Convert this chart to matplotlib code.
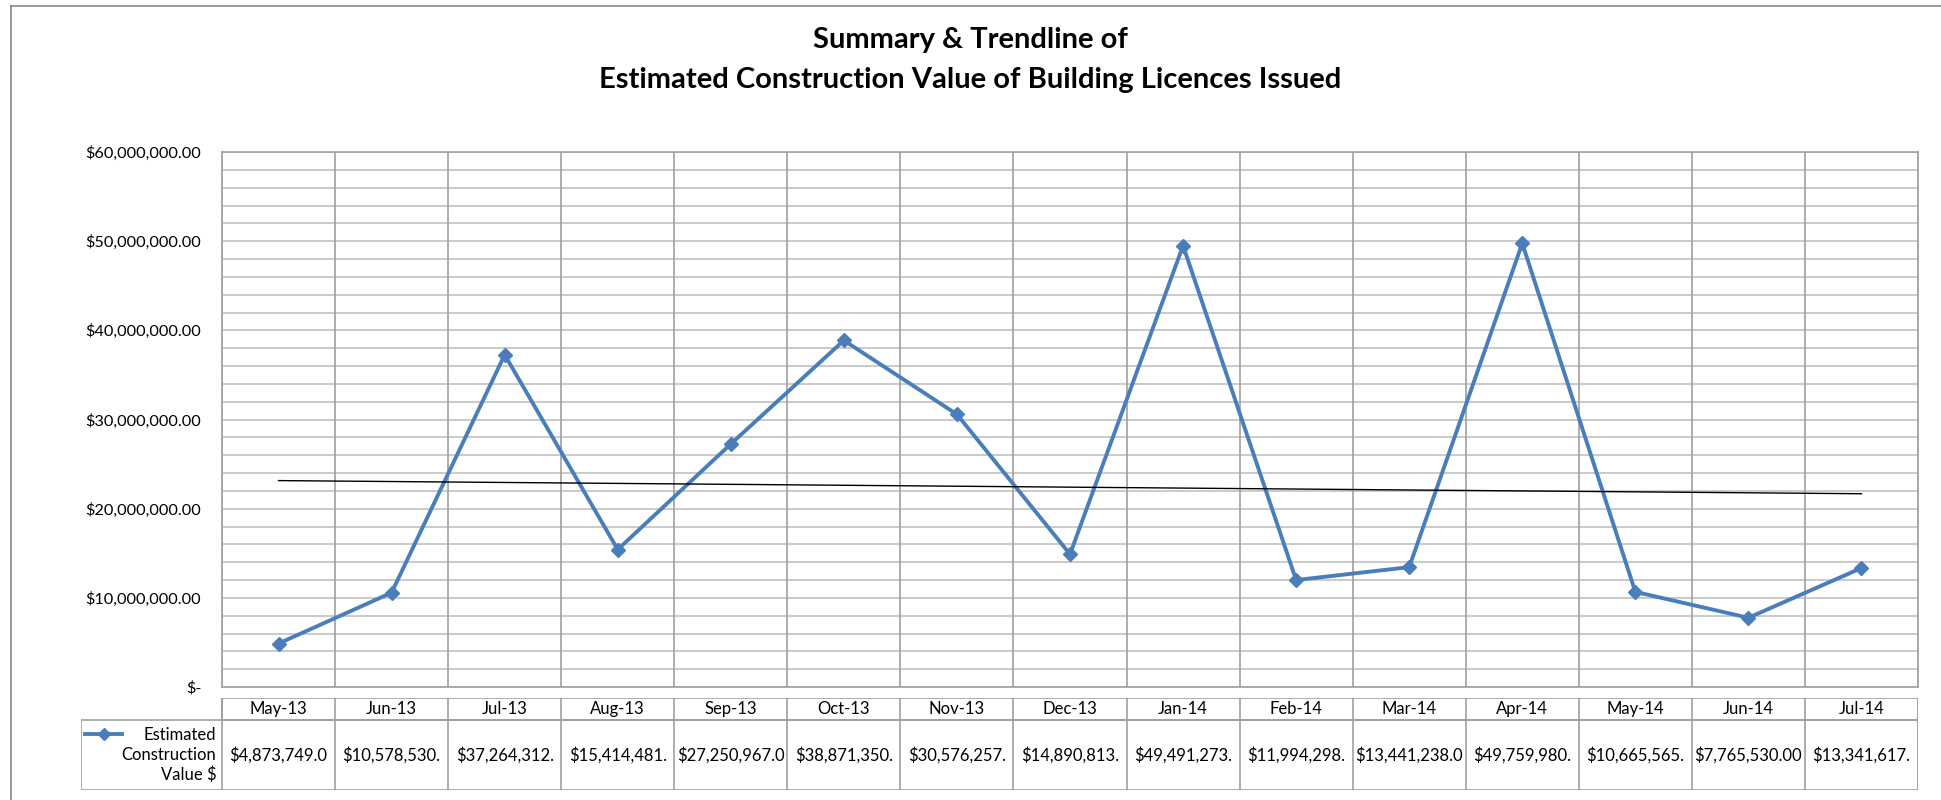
import matplotlib.pyplot as plt
import numpy as np
from matplotlib.lines import Line2D
from matplotlib.patches import Rectangle

plt.rcParams['font.family'] = ['Lato', 'DejaVu Sans']

# data
months = ['May-13', 'Jun-13', 'Jul-13', 'Aug-13', 'Sep-13', 'Oct-13', 'Nov-13', 'Dec-13',
          'Jan-14', 'Feb-14', 'Mar-14', 'Apr-14', 'May-14', 'Jun-14', 'Jul-14']
values = [4873749.0, 10578530, 37264312, 15414481, 27250967.0, 38871350, 30576257, 14890813,
          49491273, 11994298, 13441238.0, 49759980, 10665565, 7765530.00, 13341617]
# table cells as shown (truncated to the cell width)
cell_labels = ['$4,873,749.0', '$10,578,530.', '$37,264,312.', '$15,414,481.', '$27,250,967.0',
               '$38,871,350.', '$30,576,257.', '$14,890,813.', '$49,491,273.', '$11,994,298.',
               '$13,441,238.0', '$49,759,980.', '$10,665,565.', '$7,765,530.00', '$13,341,617.']
y_ticks = [0, 10000000, 20000000, 30000000, 40000000, 50000000, 60000000]
y_labels = ['$-', '$10,000,000.00', '$20,000,000.00', '$30,000,000.00', '$40,000,000.00',
            '$50,000,000.00', '$60,000,000.00']
series_name = 'Estimated\nConstruction\nValue $'

line_color = '#4A7EBB'
grid_h = '#c6c6c6'
grid_v = '#a0a0a0'

W, H = 1941, 800
fig = plt.figure(figsize=(W / 100, H / 100), dpi=100)

def box(l, t, r, b):
    return [l / W, 1 - b / H, (r - l) / W, (b - t) / H]

# outer chart border
fig.add_artist(Line2D([11 / W, 11 / W], [0, 1 - 6 / H], color='#888888', lw=1.2))
fig.add_artist(Line2D([11 / W, 1], [1 - 6 / H, 1 - 6 / H], color='#888888', lw=1.2))

ax = fig.add_axes(box(222, 152, 1918, 687))
x = np.arange(len(months))
n = len(months)

ax.set_xlim(-0.5, n - 0.5)
ax.set_ylim(0, 60000000)
ax.set_yticks(y_ticks)
ax.set_yticklabels(y_labels, fontsize=11.7)
ax.set_yticks(np.arange(0, 60000001, 2000000), minor=True)
ax.tick_params(axis='y', which='both', length=0, pad=15)
ax.set_xticks([])
ax.grid(True, axis='y', which='both', color=grid_h, lw=1.3)
for b in np.arange(-0.5, n, 1.0):
    ax.axvline(b, color=grid_v, lw=1.2, zorder=1)
for s in ax.spines.values():
    s.set_color(grid_v)
    s.set_linewidth(1.2)
ax.set_axisbelow(True)

ax.plot(x, values, color=line_color, lw=2.8, marker='D', markersize=7, zorder=3)

# linear trendline
k, c = np.polyfit(x, values, 1)
ax.plot(x, k * x + c, color='black', lw=1.0, zorder=4)

fig.text(0.5, 1 - 40 / H, 'Summary & Trendline of', ha='center', va='center',
         fontsize=21, fontweight='bold')
fig.text(0.5, 1 - 80 / H, 'Estimated Construction Value of Building Licences Issued',
         ha='center', va='center', fontsize=21, fontweight='bold')

# data table under the chart
unit = (1918 - 222) / n
left_ext = (222 - 81) / unit
tax = fig.add_axes(box(81, 698, 1918, 790))
tax.set_xlim(-0.5 - left_ext, n - 0.5)
tax.set_ylim(0, 92)
tax.axis('off')
hdr_h = 22
tc = '#a0a0a0'
tax.add_patch(Rectangle((-0.5, 92 - hdr_h), n, hdr_h, fill=False, ec=tc, lw=1.2))
tax.add_patch(Rectangle((-0.5 - left_ext, 0), n + left_ext, 92 - hdr_h, fill=False, ec=tc, lw=1.2))
for b in np.arange(-0.5, n, 1.0):
    tax.plot([b, b], [0, 92], color=tc, lw=1.2)
for i, m in enumerate(months):
    tax.text(i, 92 - hdr_h / 2, m, ha='center', va='center', fontsize=12)
    tax.text(i, (92 - hdr_h) / 2, cell_labels[i], ha='center', va='center', fontsize=12)
tax.text(-0.5 - 0.05, (92 - hdr_h) / 2, series_name, ha='right', va='center',
         fontsize=12, linespacing=1.3)
lx0 = -0.5 - left_ext + 0.035
ly = 92 - hdr_h - 14
tax.plot([lx0, lx0 + 0.33], [ly, ly], color=line_color, lw=2.8)
tax.plot([lx0 + 0.165], [ly], color=line_color, marker='D', markersize=6)

fig.savefig('out.png', dpi=100)
